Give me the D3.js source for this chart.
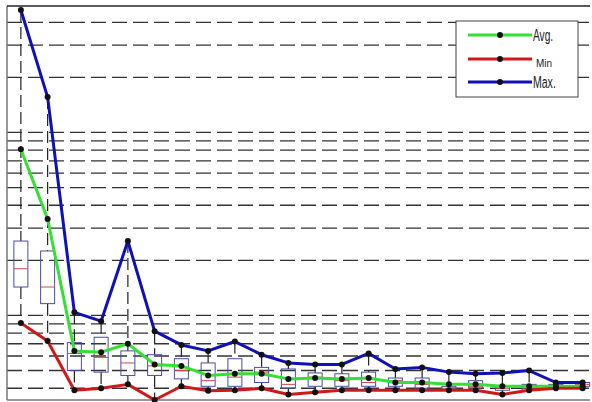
<!DOCTYPE html>
<html lang="en">
<head>
    <meta charset="UTF-8">
    <title>Avg / Min / Max per step</title>
    <script src="https://d3js.org/d3.v7.min.js"></script>
    <style>
        body {
            margin: 0;
            background: white;
            font-family: "Liberation Sans", Arial, sans-serif;
        }
        svg {
            display: block;
        }
        .grid line {
            stroke: #333;
            stroke-width: 1.3px;
            stroke-dasharray: 15, 6;
        }
        .whisker {
            stroke: #222;
            stroke-width: 1.2px;
            stroke-dasharray: 12, 5;
        }
        .box {
            fill: none;
            stroke: #4a4aa8;
            stroke-width: 1px;
        }
        .median {
            stroke: #d04848;
            stroke-width: 1px;
        }
        .series {
            fill: none;
            stroke-width: 3px;
            stroke-linejoin: round;
        }
    </style>
</head>
<body>
    <script>
        // series, one value per step (log scale)
        const steps = d3.range(1, 23);
        const avgVals = [8.1, 3.37, 0.64, 0.63, 0.70, 0.54, 0.53, 0.47, 0.48, 0.48, 0.45,
                         0.455, 0.45, 0.455, 0.43, 0.43, 0.42, 0.42, 0.41, 0.41, 0.41, 0.41];
        const minVals = [0.91, 0.725, 0.39, 0.40, 0.42, 0.345, 0.41, 0.387, 0.39, 0.40, 0.37,
                         0.38, 0.39, 0.39, 0.39, 0.39, 0.39, 0.39, 0.37, 0.39, 0.40, 0.40];
        const maxVals = [46.7, 15.6, 1.04, 0.93, 2.55, 0.82, 0.69, 0.64, 0.72, 0.61, 0.55,
                         0.54, 0.54, 0.62, 0.51, 0.52, 0.49, 0.48, 0.485, 0.50, 0.43, 0.43];

        // box plot quartiles
        const q1Vals = [1.43, 1.16, 0.50, 0.49, 0.47, 0.47, 0.45, 0.41, 0.41, 0.43, 0.40,
                        0.41, 0.41, 0.41, 0.41, 0.40, 0.39, 0.40, 0.39, 0.39, 0.40, 0.41];
        const medVals = [1.80, 1.43, 0.62, 0.59, 0.55, 0.53, 0.50, 0.44, 0.46, 0.49, 0.42,
                         0.46, 0.44, 0.43, 0.44, 0.42, 0.40, 0.41, 0.40, 0.40, 0.41, 0.42];
        const q3Vals = [2.55, 2.25, 0.71, 0.76, 0.64, 0.61, 0.58, 0.55, 0.58, 0.52, 0.51,
                        0.485, 0.48, 0.49, 0.455, 0.455, 0.41, 0.44, 0.41, 0.42, 0.42, 0.43];

        const legendNames = ["Avg.", "Min", "Max."];
        const colors = ["#33e033", "#d01818", "#1010b8"];

        const width = 592, height = 402;
        const svg = d3.select("body").append("svg")
            .attr("width", width)
            .attr("height", height);

        const x = d3.scaleLinear().domain([0.5, 22.5]).range([7.5, 596]);
        const y = d3.scaleLog().domain([0.345, 49.1]).range([400, 6]);
        const frameL = 7, frameR = 590, frameT = 6, frameB = 400;

        // dashed log grid
        svg.append("g").attr("class", "grid")
            .selectAll("line")
            .data(y.ticks())
            .enter().append("line")
            .attr("x1", frameL).attr("x2", frameR)
            .attr("y1", d => y(d)).attr("y2", d => y(d));

        // frame
        svg.append("line").attr("x1", frameL).attr("x2", frameL).attr("y1", frameT).attr("y2", frameB)
            .attr("stroke", "#777").attr("stroke-width", 1.5);
        svg.append("line").attr("x1", frameL).attr("x2", frameR).attr("y1", frameT).attr("y2", frameT)
            .attr("stroke", "#222").attr("stroke-width", 1.3);
        svg.append("line").attr("x1", frameL).attr("x2", frameR).attr("y1", frameB).attr("y2", frameB)
            .attr("stroke", "#777").attr("stroke-width", 1.5);

        // box plots
        const boxes = steps.map((s, i) => ({
            s, min: minVals[i], q1: q1Vals[i], med: medVals[i], q3: q3Vals[i], max: maxVals[i]
        }));
        const bw = 14;
        const bx = svg.append("g");
        bx.selectAll(".wTop").data(boxes).enter().append("line")
            .attr("class", "whisker")
            .attr("x1", d => x(d.s)).attr("x2", d => x(d.s))
            .attr("y1", d => y(d.max)).attr("y2", d => y(d.q3));
        bx.selectAll(".wBot").data(boxes).enter().append("line")
            .attr("class", "whisker")
            .attr("x1", d => x(d.s)).attr("x2", d => x(d.s))
            .attr("y1", d => y(d.q1)).attr("y2", d => y(d.min));
        bx.selectAll(".box").data(boxes).enter().append("rect")
            .attr("class", "box")
            .attr("x", d => x(d.s) - bw / 2)
            .attr("width", bw)
            .attr("y", d => y(d.q3))
            .attr("height", d => y(d.q1) - y(d.q3));
        bx.selectAll(".median").data(boxes).enter().append("line")
            .attr("class", "median")
            .attr("x1", d => x(d.s) - bw / 2).attr("x2", d => x(d.s) + bw / 2)
            .attr("y1", d => y(d.med)).attr("y2", d => y(d.med));

        // lines with markers
        const seriesList = [avgVals, minVals, maxVals];
        const line = d3.line().x((d, i) => x(steps[i])).y(d => y(d));
        seriesList.forEach((vals, k) => {
            svg.append("path")
                .attr("class", "series")
                .attr("stroke", colors[k])
                .attr("d", line(vals));
        });
        seriesList.forEach(vals => {
            svg.append("g").selectAll("circle")
                .data(vals)
                .enter().append("circle")
                .attr("cx", (d, i) => x(steps[i]))
                .attr("cy", d => y(d))
                .attr("r", 3)
                .attr("fill", "#111");
        });

        // legend
        const lg = svg.append("g").attr("transform", "translate(456,21)");
        lg.append("rect").attr("width", 122).attr("height", 76)
            .attr("fill", "white").attr("stroke", "#444").attr("stroke-width", 1);
        const rows = [14, 38, 61];
        const fontSizes = [17, 10.5, 17];
        const squeeze = [0.6, 0.95, 0.62];
        legendNames.forEach((name, k) => {
            lg.append("line")
                .attr("x1", 12).attr("x2", 76)
                .attr("y1", rows[k]).attr("y2", rows[k])
                .attr("stroke", colors[k]).attr("stroke-width", 3);
            lg.append("circle").attr("cx", 44).attr("cy", rows[k]).attr("r", 3).attr("fill", "#111");
            lg.append("text")
                .attr("transform", `translate(${k === 1 ? 80 : 77},${rows[k] + (k === 1 ? 8 : 6)}) scale(${squeeze[k]},1)`)
                .attr("font-size", fontSizes[k])
                .attr("fill", "#222")
                .text(name);
        });
    </script>
</body>
</html>
